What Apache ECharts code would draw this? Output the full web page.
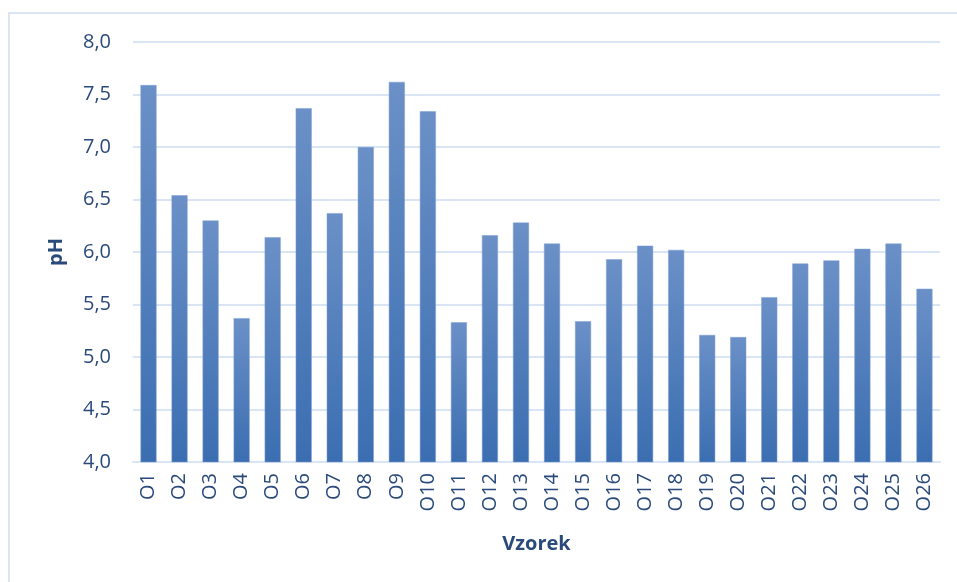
<!DOCTYPE html>
<html>
<head>
<meta charset="utf-8">
<script src="https://cdn.jsdelivr.net/npm/echarts@6/dist/echarts.min.js"></script>
<style>
    html, body { margin: 0; padding: 0; background: #fff; }
    #chart { width: 957px; height: 582px; }
</style>
</head>
<body>
<div id="chart"></div>
<script>
const categories = ["O1", "O2", "O3", "O4", "O5", "O6", "O7", "O8", "O9", "O10",
    "O11", "O12", "O13", "O14", "O15", "O16", "O17", "O18", "O19", "O20",
    "O21", "O22", "O23", "O24", "O25", "O26"];
const phValues = [7.59, 6.54, 6.30, 5.37, 6.14, 7.37, 6.37, 7.00, 7.62, 7.34,
    5.33, 6.16, 6.28, 6.08, 5.34, 5.93, 6.06, 6.02, 5.21, 5.19,
    5.57, 5.89, 5.92, 6.03, 6.08, 5.65];

const textColor = "#2a4a7b";
const lineColor = "#d9e5f4";
const font = "Open Sans";

const chart = echarts.init(document.getElementById("chart"));

const options = {
    animation: false,
    graphic: [
        {
            type: "rect",
            shape: { x: 9, y: 13, width: 1000, height: 620 },
            style: { fill: "none", stroke: lineColor, lineWidth: 2 },
        },
    ],
    grid: {
        left: 133,
        right: 17,
        top: 42,
        bottom: 120,
    },
    xAxis: {
        type: "category",
        data: categories,
        name: "Vzorek",
        nameLocation: "middle",
        nameGap: 72,
        nameTextStyle: {
            color: textColor,
            fontFamily: font,
            fontWeight: "bold",
            fontSize: 20,
        },
        axisLine: { lineStyle: { color: lineColor, width: 2 } },
        axisTick: { show: false },
        axisLabel: {
            rotate: 90,
            color: textColor,
            fontFamily: font,
            fontSize: 20,
            margin: 11,
        },
    },
    yAxis: {
        type: "value",
        min: 4,
        max: 8,
        interval: 0.5,
        name: "pH",
        nameLocation: "middle",
        nameGap: 67,
        nameTextStyle: {
            color: textColor,
            fontFamily: font,
            fontWeight: "bold",
            fontSize: 20,
        },
        axisLine: { show: false },
        axisTick: { show: false },
        axisLabel: {
            color: textColor,
            fontFamily: font,
            fontSize: 20,
            margin: 22,
            formatter: (v) => v.toFixed(1).replace(".", ","),
        },
        splitLine: { lineStyle: { color: lineColor, width: 2 } },
    },
    series: [
        {
            type: "bar",
            data: phValues,
            barWidth: 16,
            itemStyle: {
                color: new echarts.graphic.LinearGradient(0, 0, 0, 1, [
                    { offset: 0, color: "#6b90c7" },
                    { offset: 1, color: "#3b6eb1" },
                ]),
                borderColor: "#7d9fd0",
                borderWidth: 0.5,
            },
        },
    ],
};

chart.setOption(options);
</script>
</body>
</html>
